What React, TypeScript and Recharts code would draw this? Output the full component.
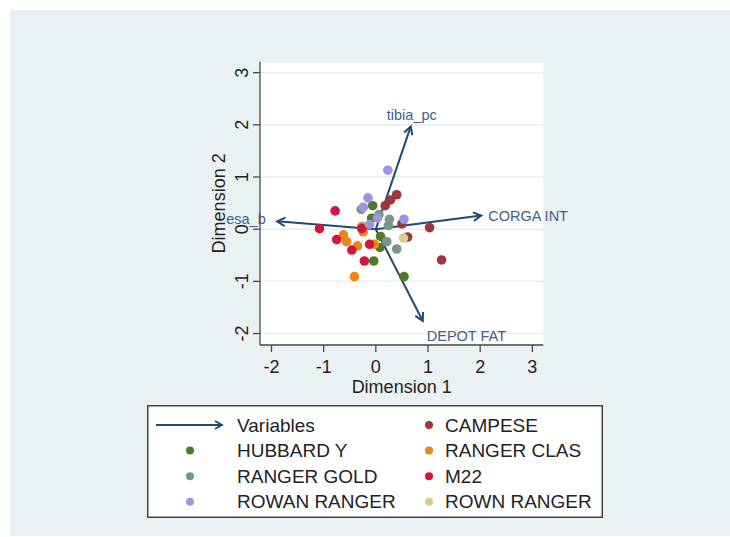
import React from 'react';
import {
  ScatterChart,
  Scatter,
  XAxis,
  YAxis,
  CartesianGrid,
  ReferenceLine,
  Label,
} from 'recharts';

const FONT = '"Liberation Sans", Arial, Helvetica, sans-serif';

// shared tick values for both dimensions
const dimTicks = [-2, -1, 0, 1, 2, 3];

// variable loadings (arrow tips)
const varNames = ['tibia_pc', 'CORGA INT', 'esa_b', 'DEPOT FAT'];
const varDim1 = [0.67, 2.02, -1.89, 0.9];
const varDim2 = [1.97, 0.26, 0.15, -1.76];

// observation scores per genotype: [dim1, dim2]
const campese = [[0.4, 0.66], [0.28, 0.56], [0.18, 0.45], [0.5, 0.1], [1.03, 0.03], [0.61, -0.15], [1.26, -0.59]];
const hubbardY = [[-0.06, 0.45], [-0.08, 0.21], [0.09, -0.14], [0.08, -0.35], [-0.04, -0.61], [0.54, -0.91]];
const rangerClas = [[-0.27, 0.05], [-0.24, -0.05], [-0.62, -0.11], [-0.56, -0.24], [-0.35, -0.32], [-0.03, -0.29], [-0.41, -0.91]];
const rangerGold = [[-0.28, 0.38], [0.06, 0.28], [0.26, 0.19], [0.24, 0.07], [0.21, -0.24], [0.4, -0.38]];
const m22 = [[-0.78, 0.35], [-1.08, 0.01], [-0.27, 0.01], [-0.75, -0.2], [-0.46, -0.4], [-0.12, -0.29], [-0.22, -0.61]];
const rowanRanger = [[0.23, 1.13], [-0.15, 0.6], [-0.24, 0.42], [0.03, 0.21], [-0.12, 0.09], [0.54, 0.19]];
const rownRanger = [[0.53, -0.17]];

const groups = [
  { name: 'CAMPESE', color: '#a0363c', pts: campese },
  { name: 'HUBBARD Y', color: '#4f7a2a', pts: hubbardY },
  { name: 'RANGER CLAS', color: '#ec8618', pts: rangerClas },
  { name: 'RANGER GOLD', color: '#779889', pts: rangerGold },
  { name: 'M22', color: '#d0153f', pts: m22 },
  { name: 'ROWAN RANGER', color: '#9d95e0', pts: rowanRanger },
  { name: 'ROWN RANGER', color: '#d8cd90', pts: rownRanger },
];

const ARROW = '#1f4a72';
const ARROW_TEXT = '#3d6189';

// where each variable label sits relative to its arrow tip
const labelPlace = [
  { dx: 1, dy: -11, anchor: 'middle' },
  { dx: 7, dy: 0, anchor: 'start' },
  { dx: -51, dy: -2, anchor: 'start' },
  { dx: 4, dy: 15, anchor: 'start' },
];

function arrowShape(i: number) {
  return (p: any) => {
    const { x1, y1, x2, y2 } = p;
    const a = Math.atan2(y2 - y1, x2 - x1);
    const len = 9;
    const spread = 0.5;
    const ax = x2 - len * Math.cos(a - spread);
    const ay = y2 - len * Math.sin(a - spread);
    const bx = x2 - len * Math.cos(a + spread);
    const by = y2 - len * Math.sin(a + spread);
    const lp = labelPlace[i];
    return (
      <g>
        <line x1={x1} y1={y1} x2={x2} y2={y2} stroke={ARROW} strokeWidth={2} />
        <polyline
          points={`${ax},${ay} ${x2},${y2} ${bx},${by}`}
          fill="none"
          stroke={ARROW}
          strokeWidth={2}
        />
        <text
          x={x2 + lp.dx}
          y={y2 + lp.dy}
          textAnchor={lp.anchor as any}
          dominantBaseline="central"
          fontSize={14.5}
          fontFamily={FONT}
          fill={ARROW_TEXT}
        >
          {varNames[i]}
        </text>
      </g>
    );
  };
}

const YTick = ({ x, y, payload }: any) => (
  <text
    x={x}
    y={y}
    transform={`rotate(-90 ${x} ${y})`}
    textAnchor="middle"
    dominantBaseline="central"
    fontSize={18}
    fontFamily={FONT}
    fill="#222"
  >
    {payload.value}
  </text>
);

const YTitle = ({ viewBox }: any) => {
  const cx = viewBox.x + 19;
  const cy = viewBox.y + viewBox.height / 2;
  return (
    <text
      x={cx}
      y={cy}
      transform={`rotate(-90 ${cx} ${cy})`}
      textAnchor="middle"
      dominantBaseline="central"
      fontSize={18}
      fontFamily={FONT}
      fill="#222"
    >
      Dimension 2
    </text>
  );
};

const legendRows = [
  ['Variables', 'CAMPESE'],
  ['HUBBARD Y', 'RANGER CLAS'],
  ['RANGER GOLD', 'M22'],
  ['ROWAN RANGER', 'ROWN RANGER'],
];

function LegendBox() {
  const colorOf = (n: string) => groups.find((g) => g.name === n)?.color;
  return (
    <svg
      width={456}
      height={113}
      style={{ position: 'absolute', left: 147, top: 405 }}
    >
      <rect x={0.75} y={0.75} width={454.5} height={111.5} fill="#fff" stroke="#444" strokeWidth={1.5} />
      {legendRows.map((row, r) => {
        const cy = 20 + r * 25.6;
        return row.map((name, c) => {
          const mx = c === 0 ? 43 : 282;
          const tx = c === 0 ? 90 : 298;
          const marker =
            name === 'Variables' ? (
              <g>
                <line x1={9} y1={cy} x2={75} y2={cy} stroke={ARROW} strokeWidth={1.8} />
                <polyline
                  points={`${68},${cy - 4} ${75},${cy} ${68},${cy + 4}`}
                  fill="none"
                  stroke={ARROW}
                  strokeWidth={1.8}
                />
              </g>
            ) : (
              <circle cx={mx} cy={cy} r={4} fill={colorOf(name)} />
            );
          return (
            <g key={name}>
              {marker}
              <text
                x={tx}
                y={cy}
                dominantBaseline="central"
                fontSize={19}
                fontFamily={FONT}
                fill="#222"
              >
                {name}
              </text>
            </g>
          );
        });
      })}
    </svg>
  );
}

export default function App() {
  return (
    <div
      style={{
        position: 'absolute',
        left: 0,
        top: 0,
        width: 730,
        height: 537,
        background: '#fff',
        overflow: 'hidden',
      }}
    >
      <div
        style={{
          position: 'absolute',
          left: 10,
          top: 10,
          width: 720,
          height: 526,
          background: '#eaf1f3',
        }}
      />
      <div style={{ position: 'absolute', left: 0, top: 0 }}>
        <ScatterChart
          width={730}
          height={537}
          margin={{ top: 61.7, right: 186.7, left: 200, bottom: 142 }}
        >
          <CartesianGrid vertical={false} stroke="#e6eef1" strokeWidth={1.5} fill="#ffffff" />
          <XAxis
            type="number"
            dataKey="x"
            domain={[-2.22, 3.21]}
            ticks={dimTicks}
            allowDataOverflow
            height={50}
            tickSize={7}
            tickMargin={8}
            axisLine={{ stroke: '#4a4a4a', strokeWidth: 1.3 }}
            tickLine={{ stroke: '#4a4a4a', strokeWidth: 1.3 }}
            tick={{ fontSize: 18, fontFamily: FONT, fill: '#222' }}
          >
            <Label
              value="Dimension 1"
              position="insideBottom"
              offset={2}
              style={{ fontSize: 18, fontFamily: FONT, fill: '#222' }}
            />
          </XAxis>
          <YAxis
            type="number"
            dataKey="y"
            domain={[-2.22, 3.21]}
            ticks={dimTicks}
            allowDataOverflow
            width={60}
            tickSize={7}
            tickMargin={11}
            axisLine={{ stroke: '#4a4a4a', strokeWidth: 1.3 }}
            tickLine={{ stroke: '#4a4a4a', strokeWidth: 1.3 }}
            tick={<YTick />}
          >
            <Label content={<YTitle />} />
          </YAxis>
          {/* loading arrows sit underneath the observation markers */}
          {varNames.map((n, i) => (
            <ReferenceLine
              key={n}
              segment={[
                { x: 0, y: 0 },
                { x: varDim1[i], y: varDim2[i] },
              ]}
              ifOverflow="visible"
              zIndex={300}
              shape={arrowShape(i)}
            />
          ))}
          {groups.map((g) => (
            <Scatter
              key={g.name}
              name={g.name}
              data={g.pts.map(([x, y]) => ({ x, y }))}
              fill={g.color}
              isAnimationActive={false}
              zIndex={600}
              shape={(p: any) => <circle cx={p.cx} cy={p.cy} r={4.8} fill={g.color} />}
            />
          ))}
        </ScatterChart>
      </div>
      <LegendBox />
    </div>
  );
}
